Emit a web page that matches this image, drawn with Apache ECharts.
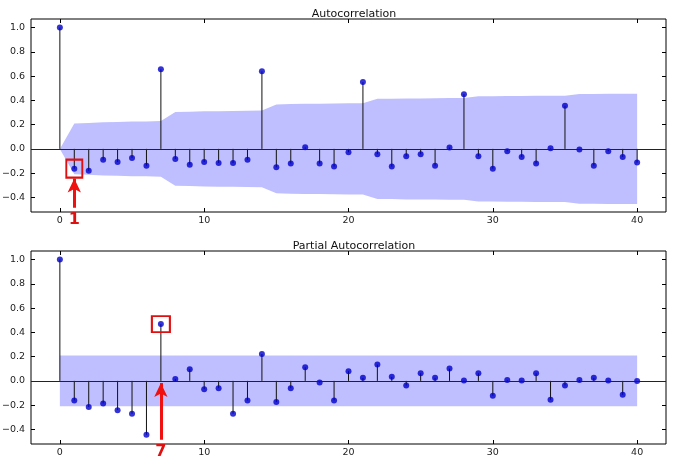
<!DOCTYPE html>
<html>
<head>
<meta charset="utf-8">
<title>ACF / PACF</title>
<script src="https://cdn.jsdelivr.net/npm/echarts@6/dist/echarts.min.js"></script>
<style>
    html, body { margin: 0; padding: 0; background: #fff; }
    #chart { width: 686px; height: 473px; }
</style>
</head>
<body>
<div id="chart"></div>
<script>
// lags 0..40
var lags = [];
for (var i = 0; i <= 40; i++) { lags.push(i); }

// autocorrelation values
var acfValues = [1.0, -0.163, -0.18, -0.09, -0.108, -0.075, -0.138, 0.655, -0.083, -0.13,
    -0.108, -0.116, -0.116, -0.09, 0.639, -0.152, -0.121, 0.013, -0.121, -0.146,
    -0.028, 0.55, -0.044, -0.146, -0.061, -0.044, -0.138, 0.011, 0.451, -0.061,
    -0.163, -0.02, -0.066, -0.121, 0.005, 0.355, -0.006, -0.138, -0.02, -0.066, -0.113];
// half width of the acf confidence band
var acfBand = [0, 0.209, 0.214, 0.220, 0.222, 0.225, 0.226, 0.230, 0.304, 0.306,
    0.309, 0.311, 0.313, 0.315, 0.316, 0.366, 0.369, 0.371, 0.371, 0.373,
    0.376, 0.376, 0.412, 0.413, 0.416, 0.416, 0.417, 0.419, 0.419, 0.434,
    0.434, 0.436, 0.436, 0.437, 0.438, 0.438, 0.452, 0.452, 0.454, 0.454, 0.455];

// partial autocorrelation values
var pacfValues = [1.0, -0.161, -0.216, -0.186, -0.241, -0.271, -0.444, 0.468, 0.016, 0.096,
    -0.068, -0.06, -0.271, -0.161, 0.222, -0.175, -0.06, 0.112, -0.014, -0.161,
    0.08, 0.025, 0.134, 0.033, -0.038, 0.063, 0.025, 0.101, 0.003, 0.063,
    -0.123, 0.008, 0.003, 0.063, -0.156, -0.038, 0.008, 0.025, 0.003, -0.115, 0.0];
var pacfBand = [];
for (var b = 0; b <= 40; b++) { pacfBand.push(0.21); }

var xTicks = [0, 10, 20, 30, 40];
var yTicks = [-0.4, -0.2, 0.0, 0.2, 0.4, 0.6, 0.8, 1.0];

// highlighted lag for each panel
var acfMarkLag = 1;
var pacfMarkLag = 7;

var FONT = 'DejaVu Sans';

function pairs(values) {
    var out = [];
    for (var i = 0; i < lags.length; i++) { out.push([lags[i], values[i]]); }
    return out;
}
function negate(values) {
    return values.map(function (v) { return -v; });
}
function fmtY(v) {
    return v.toFixed(1).replace('-', '\u2212');
}

function axisPair(gridIndex, type) {
    // main axis with labels + mirror axis with inward ticks only
    var isX = type === 'x';
    var base = {
        type: 'value',
        gridIndex: gridIndex,
        min: isX ? -2 : -0.52,
        max: isX ? 42 : 1.07,
        splitLine: { show: false },
        axisLine: { show: false, onZero: false },
        axisTick: {
            show: true, inside: true, length: 4,
            lineStyle: { color: '#000', width: 1 },
            customValues: isX ? xTicks : yTicks
        }
    };
    var main = echarts.util.merge({
        position: isX ? 'bottom' : 'left',
        axisLabel: {
            show: true,
            customValues: isX ? xTicks : yTicks,
            color: '#222', fontFamily: FONT, fontSize: 9.5,
            margin: isX ? 4 : 6,
            formatter: isX ? function (v) { return String(v); } : fmtY
        }
    }, echarts.util.clone(base), true);
    var mirror = echarts.util.merge({
        position: isX ? 'top' : 'right',
        axisLabel: { show: false }
    }, echarts.util.clone(base), true);
    return [main, mirror];
}

function panelSeries(axisIndex, values, band, markLag, arrowFrom, arrowTo, boxSize) {
    var bandStyle = { color: '#bfbfff', opacity: 1 };
    return [
        {
            type: 'line', xAxisIndex: axisIndex, yAxisIndex: axisIndex,
            data: pairs(band), symbol: 'none', silent: true,
            lineStyle: { width: 0 }, areaStyle: bandStyle, z: 1
        },
        {
            type: 'line', xAxisIndex: axisIndex, yAxisIndex: axisIndex,
            data: pairs(negate(band)), symbol: 'none', silent: true,
            lineStyle: { width: 0 }, areaStyle: bandStyle, z: 1,
            markLine: {
                silent: true, symbol: 'none', label: { show: false },
                lineStyle: { color: '#1010b0', width: 1.2, type: 'solid' },
                data: [{ yAxis: 0 }]
            }
        },
        {
            // stems
            type: 'custom', xAxisIndex: axisIndex, yAxisIndex: axisIndex,
            data: pairs(values), z: 3,
            renderItem: function (params, api) {
                var p0 = api.coord([api.value(0), 0]);
                var p1 = api.coord([api.value(0), api.value(1)]);
                return {
                    type: 'line',
                    shape: { x1: p0[0], y1: p0[1], x2: p1[0], y2: p1[1] },
                    style: { stroke: '#111', lineWidth: 1 }
                };
            }
        },
        {
            type: 'scatter', xAxisIndex: axisIndex, yAxisIndex: axisIndex,
            data: pairs(values), symbolSize: 6, z: 4,
            itemStyle: { color: '#0000cc' },
            markPoint: {
                silent: true,
                symbol: 'rect', symbolSize: boxSize,
                itemStyle: { color: 'rgba(0,0,0,0)', borderColor: '#e01010', borderWidth: 2 },
                label: { show: false },
                data: [{ coord: [markLag, values[markLag]] }]
            },
            markLine: {
                silent: true,
                symbol: ['none', 'arrow'], symbolSize: [10, 14],
                lineStyle: { color: '#f01010', width: 3, type: 'solid' },
                label: {
                    show: true, position: 'start', distance: 4,
                    formatter: String(markLag),
                    color: '#e01010', fontFamily: FONT, fontSize: 16, fontWeight: 'bold'
                },
                data: [[{ coord: [markLag, arrowFrom] }, { coord: [markLag, arrowTo] }]]
            }
        }
    ];
}

var chart = echarts.init(document.getElementById('chart'));
var acfX = axisPair(0, 'x'), acfY = axisPair(0, 'y');
var pacfX = axisPair(1, 'x'), pacfY = axisPair(1, 'y');

var titleStyle = { fontFamily: FONT, fontSize: 11, fontWeight: 'normal', color: '#111' };
var gridBase = { left: 31, right: 20, height: 193, show: true, containLabel: false,
    outerBoundsMode: 'none', borderColor: '#000', borderWidth: 1, backgroundColor: 'transparent' };

var option = {
    animation: false,
    backgroundColor: '#fff',
    title: [
        { text: 'Autocorrelation', left: 349, top: 4, textAlign: 'center', textStyle: titleStyle },
        { text: 'Partial Autocorrelation', left: 349, top: 236, textAlign: 'center', textStyle: titleStyle }
    ],
    grid: [
        echarts.util.extend({ top: 19 }, gridBase),
        echarts.util.extend({ top: 251 }, gridBase)
    ],
    xAxis: [acfX[0], acfX[1], pacfX[0], pacfX[1]],
    yAxis: [acfY[0], acfY[1], pacfY[0], pacfY[1]],
    series: [].concat(
        panelSeries(0, acfValues, acfBand, acfMarkLag, -0.485, -0.245, [16, 18]),
        panelSeries(2, pacfValues, pacfBand, pacfMarkLag, -0.485, -0.018, [18, 16])
    )
};
chart.setOption(option);
</script>
</body>
</html>
